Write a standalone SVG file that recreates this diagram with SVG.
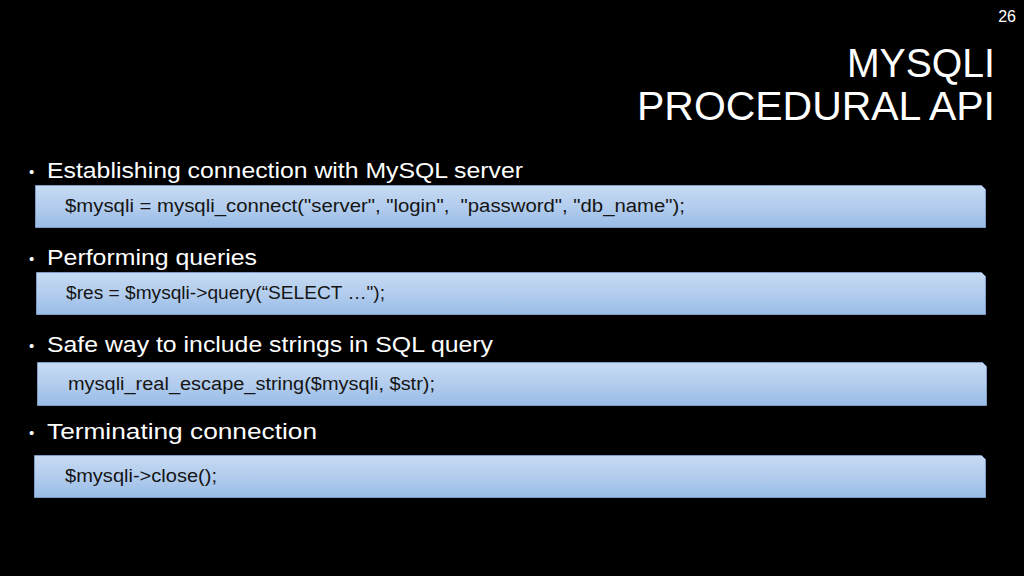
<svg xmlns="http://www.w3.org/2000/svg" width="1024" height="576" viewBox="0 0 1024 576">
<defs>
<linearGradient id="g" x1="0" y1="0" x2="0" y2="1">
<stop offset="0" stop-color="#c6daf2"/>
<stop offset="0.5" stop-color="#b3cdee"/>
<stop offset="1" stop-color="#98bce6"/>
</linearGradient>
</defs>
<style>
.box{fill:url(#g);stroke:#7e9cc4;stroke-width:1}
.t{font-family:"Liberation Sans",Arial,sans-serif;fill:#ffffff}
.d{font-family:"Liberation Sans",Arial,sans-serif;fill:#ffffff;font-size:15px}
.b{font-family:"Liberation Sans",Arial,sans-serif;fill:#ffffff;font-size:22px}
.c{font-family:"Liberation Sans",Arial,sans-serif;fill:#151515;font-size:18px;white-space:pre}
</style>
<rect width="1024" height="576" fill="#000000"/>
<g id="title">
<text class="t" x="1016" y="22" font-size="16" text-anchor="end">26</text>
<text class="t" x="995" y="77" font-size="41" text-anchor="end" textLength="148" lengthAdjust="spacingAndGlyphs">MYSQLI</text>
<text class="t" x="995" y="120" font-size="41" text-anchor="end" textLength="358" lengthAdjust="spacingAndGlyphs">PROCEDURAL API</text>
</g>
<g id="item1">
<text class="d" x="29" y="177">•</text>
<text class="b" x="47" y="178" textLength="476" lengthAdjust="spacingAndGlyphs">Establishing connection with MySQL server</text>
<path class="box" d="M35.5,185.5 H981.5 L985.5,189.5 V227.5 H35.5 Z"/>
<text class="c" x="65" y="212" textLength="620" lengthAdjust="spacingAndGlyphs" xml:space="preserve">$mysqli = mysqli_connect("server", "login",  "password", "db_name");</text>
</g>
<g id="item2">
<text class="d" x="29" y="264">•</text>
<text class="b" x="47" y="265" textLength="210" lengthAdjust="spacingAndGlyphs">Performing queries</text>
<path class="box" d="M36.5,272.5 H981.5 L985.5,276.5 V314.5 H36.5 Z"/>
<text class="c" x="66" y="299" textLength="319" lengthAdjust="spacingAndGlyphs">$res = $mysqli-&gt;query(“SELECT …");</text>
</g>
<g id="item3">
<text class="d" x="29" y="351">•</text>
<text class="b" x="47" y="352" textLength="446" lengthAdjust="spacingAndGlyphs">Safe way to include strings in SQL query</text>
<path class="box" d="M37.5,362.5 H982.5 L986.5,366.5 V405.5 H37.5 Z"/>
<text class="c" x="68" y="390" textLength="367" lengthAdjust="spacingAndGlyphs">mysqli_real_escape_string($mysqli, $str);</text>
</g>
<g id="item4">
<text class="d" x="29" y="438">•</text>
<text class="b" x="47" y="439" textLength="270" lengthAdjust="spacingAndGlyphs">Terminating connection</text>
<path class="box" d="M34.5,455.5 H981.5 L985.5,459.5 V497.5 H34.5 Z"/>
<text class="c" x="65" y="482" textLength="152" lengthAdjust="spacingAndGlyphs">$mysqli-&gt;close();</text>
</g>
</svg>
